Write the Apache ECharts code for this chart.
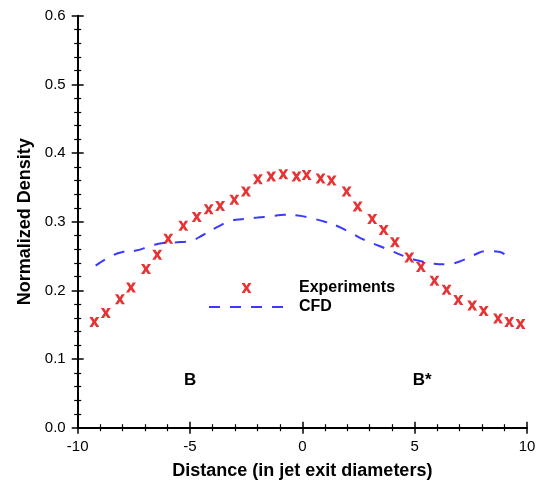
<!DOCTYPE html>
<html>
<head>
<meta charset="utf-8">
<script src="https://cdn.jsdelivr.net/npm/echarts@6/dist/echarts.min.js"></script>
<style>
  html, body { margin: 0; padding: 0; background: #fff; }
  #chart { width: 538px; height: 480px; }
</style>
</head>
<body>
<div id="chart"></div>
<script>
// Measured density profile across the jet (red crosses)
const expX = [-9.26, -8.75, -8.12, -7.63, -6.96, -6.46, -5.97, -5.30, -4.70, -4.17,
              -3.66, -3.03, -2.51, -1.98, -1.39, -0.85, -0.26, 0.19, 0.81, 1.30,
              1.97, 2.46, 3.11, 3.62, 4.12, 4.76, 5.28, 5.88, 6.42, 6.94,
              7.56, 8.07, 8.71, 9.21, 9.71];
const expY = [0.154, 0.167, 0.187, 0.204, 0.231, 0.252, 0.275, 0.294, 0.307, 0.318,
              0.323, 0.332, 0.344, 0.362, 0.366, 0.369, 0.366, 0.368, 0.363, 0.360,
              0.344, 0.322, 0.304, 0.288, 0.270, 0.248, 0.234, 0.214, 0.201, 0.186,
              0.178, 0.170, 0.159, 0.154, 0.151];

// Computed (CFD) density profile (blue dashed curve)
const cfdX = [-9.2, -8.6, -8.0, -7.4, -6.8, -6.2, -5.6, -5.0, -4.4, -3.8, -3.2, -2.6,
              -2.0, -1.4, -0.8, -0.2, 0.4, 1.0, 1.6, 2.2, 2.8, 3.4, 4.0, 4.6,
              5.2, 5.8, 6.4, 7.0, 7.6, 8.2, 8.8, 9.2];
const cfdY = [0.236, 0.248, 0.256, 0.258, 0.264, 0.269, 0.270, 0.272, 0.281, 0.292, 0.301, 0.304,
              0.306, 0.308, 0.310, 0.309, 0.305, 0.300, 0.293, 0.283, 0.273, 0.265, 0.257, 0.249,
              0.243, 0.239, 0.238, 0.242, 0.251, 0.257, 0.256, 0.242];

// Section markers written inside the plot
const noteText = ['B', 'B*'];
const noteX = [-5.0, 5.33];
const noteY = [0.069, 0.069];

const seriesNames = ['Experiments', 'CFD'];
const xTitle = 'Distance (in jet exit diameters)';
const yTitle = 'Normalized Density';

const RED = '#e00000';
const BLUE = '#3a3aff';
const FONT = '"Liberation Sans", Arial, Helvetica, sans-serif';
const crossPath = 'path://M0,0L3.2,0L5,2.9L6.8,0L10,0L6.7,5L10,10L6.8,10L5,7.1L3.2,10L0,10L3.3,5Z';

const zip = (a, b) => a.map((v, i) => [v, b[i]]);

function axisPair(kind) {
  const isX = kind === 'x';
  const tick = { show: true, length: 6, lineStyle: { color: '#000', width: 1.5 } };
  const minor = { show: true, splitNumber: 5, length: 3.5, lineStyle: { color: '#000', width: 1.2 } };
  const base = {
    type: 'value',
    min: isX ? -10 : 0,
    max: isX ? 10 : 0.6,
    interval: isX ? 5 : 0.1,
    position: isX ? 'bottom' : 'left',
    splitLine: { show: false },
    minorSplitLine: { show: false }
  };
  const outer = Object.assign({}, base, {
    axisLine: { show: true, onZero: false, lineStyle: { color: '#000', width: 2 } },
    axisTick: tick,
    minorTick: minor,
    axisLabel: {
      color: '#000', fontFamily: FONT, fontSize: 15,
      margin: isX ? 12 : 12,
      formatter: isX ? (v) => String(v) : (v) => v.toFixed(1)
    },
    name: isX ? xTitle : yTitle,
    nameLocation: 'middle',
    nameGap: isX ? 34 : 44,
    nameTextStyle: { color: '#000', fontFamily: FONT, fontSize: 18, fontWeight: 'bold' }
  });
  // second copy of the axis draws the inward half of each tick
  const inner = Object.assign({}, base, {
    axisLine: { show: false, onZero: false },
    axisTick: Object.assign({}, tick, { inside: true }),
    minorTick: Object.assign({}, minor, { inside: true }),
    axisLabel: { show: false }
  });
  return [outer, inner];
}

const chart = echarts.init(document.getElementById('chart'), null, { renderer: 'canvas' });

chart.setOption({
  animation: false,
  backgroundColor: '#fff',
  grid: {
    left: 77.7, right: 11, top: 15.7, bottom: 52.3,
    containLabel: false,
    outerBoundsMode: 'none'
  },
  xAxis: axisPair('x'),
  yAxis: axisPair('y'),
  legend: {
    data: [
      { name: seriesNames[0] },
      { name: seriesNames[1], itemStyle: { color: 'rgba(0,0,0,0)', borderWidth: 0 } }
    ],
    orient: 'vertical',
    left: 203,
    top: 275,
    itemWidth: 75,
    itemHeight: 10,
    itemGap: 3,
    textStyle: { color: '#000', fontFamily: FONT, fontSize: 16, fontWeight: 'bold', padding: [0, 0, 0, 10] }
  },
  series: [
    {
      name: seriesNames[0],
      type: 'scatter',
      symbol: crossPath,
      symbolSize: [10, 10],
      itemStyle: { color: RED },
      data: zip(expX, expY),
      z: 3
    },
    {
      name: seriesNames[1],
      type: 'line',
      smooth: true,
      showSymbol: false,
      symbol: 'none',
      lineStyle: { color: BLUE, width: 2, type: [11, 10] },
      itemStyle: { color: BLUE },
      data: zip(cfdX, cfdY),
      z: 2
    },
    {
      name: 'notes',
      type: 'scatter',
      symbol: 'circle',
      symbolSize: 1,
      silent: true,
      itemStyle: { color: 'rgba(0,0,0,0)' },
      data: noteX.map((x, i) => ({ value: [x, noteY[i]], label: { formatter: noteText[i] } })),
      label: {
        show: true,
        position: 'inside',
        color: '#000',
        opacity: 1,
        textBorderWidth: 0,
        fontFamily: FONT,
        fontSize: 17,
        fontWeight: 'bold'
      }
    }
  ]
});
</script>
</body>
</html>
